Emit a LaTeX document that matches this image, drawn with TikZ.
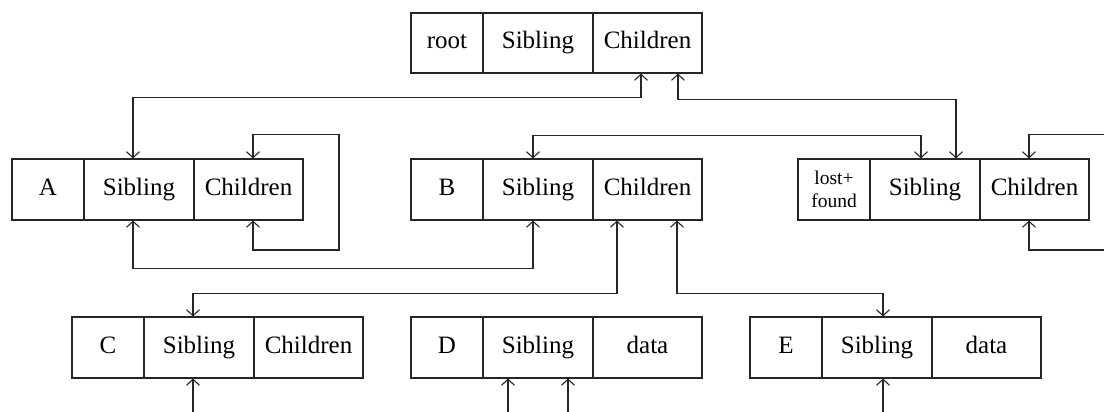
\documentclass[tikz,border=0pt]{standalone}
\usepackage{fontspec}
\setmainfont{Liberation Serif}
\usetikzlibrary{arrows.meta}
\begin{document}
\begin{tikzpicture}[x=1pt,y=-1pt,
  cell/.style={draw=black!85, line width=1.1pt, minimum height=61pt, inner sep=0pt,
    text height=17pt, text depth=5.5pt, font=\fontsize{25}{30}\selectfont},
  namecell/.style={cell, minimum width=72pt},
  sibcell/.style={cell, minimum width=110pt},
  chcell/.style={cell, minimum width=109pt},
  link/.style={draw=black!85, line width=1.1pt, arrows={Straight Barb[length=6pt,width=13pt]-Straight Barb[length=6pt,width=13pt]}},
  inlink/.style={draw=black!85, line width=1.1pt, arrows={Straight Barb[length=6pt,width=13pt]-}}]
\useasboundingbox (0,0) rectangle (1104,412);
\clip (0,0) rectangle (1104,412);
% root
\node[namecell, minimum height=60pt] (rootN) at (447,43) {root};
\node[sibcell, minimum height=60pt] (rootS) at (538,43) {Sibling};
\node[chcell, minimum height=60pt] (rootC) at (647.5,43) {Children};
% A
\node[namecell] (AN) at (48,189.5) {A};
\node[sibcell] (AS) at (139,189.5) {Sibling};
\node[chcell] (AC) at (248.5,189.5) {Children};
% B
\node[namecell] (BN) at (447,189.5) {B};
\node[sibcell] (BS) at (538,189.5) {Sibling};
\node[chcell] (BC) at (647.5,189.5) {Children};
% lost+found
\node[namecell, align=center, text height=, text depth=, font=\fontsize{19.5}{22.7}\selectfont] (LN) at (834,189.5) {lost+\\found};
\node[sibcell] (LS) at (925,189.5) {Sibling};
\node[chcell] (LC) at (1034.5,189.5) {Children};
% C
\node[namecell] (CN) at (108,347.5) {C};
\node[sibcell] (CS) at (199,347.5) {Sibling};
\node[chcell] (CC) at (308.5,347.5) {Children};
% D
\node[namecell] (DN) at (447,347.5) {D};
\node[sibcell] (DS) at (538,347.5) {Sibling};
\node[chcell] (DD) at (647.5,347.5) {data};
% E
\node[namecell] (EN) at (786,347.5) {E};
\node[sibcell] (ES) at (877,347.5) {Sibling};
\node[chcell] (ED) at (986.5,347.5) {data};
% loop corners
\coordinate (Aloop) at (339,250);
\coordinate (Lloop) at (1140,250);
% connectors
\draw[link] ([xshift=-6.5pt]rootC.south) -- ++(0,24) -| ([xshift=-6pt]AS.north);
\draw[link] ([xshift=30.5pt]rootC.south) -- ++(0,26) -| ([xshift=31pt]LS.north);
\draw[link] ([xshift=4.5pt]AC.north) -- ++(0,-24) -| (Aloop) -| ([xshift=4.5pt]AC.south);
\draw[link] ([xshift=-6pt]AS.south) -- ++(0,48) -| ([xshift=-5pt]BS.south);
\draw[link] ([xshift=-5pt]BS.north) -- ++(0,-23) -| ([xshift=-4pt]LS.north);
\draw[link] ([xshift=-5.5pt]LC.north) -- ++(0,-24) -| (Lloop) -| ([xshift=-5.5pt]LC.south);
\draw[link] ([xshift=-30.5pt]BC.south) -- ++(0,73) -| ([xshift=-6pt]CS.north);
\draw[link] ([xshift=29.5pt]BC.south) -- ++(0,73) -| ([xshift=6pt]ES.north);
% free ends below
\coordinate (cfree) at ([xshift=-6pt,yshift=-60pt]CS.south);
\coordinate (dfree1) at ([xshift=-30pt,yshift=-60pt]DS.south);
\coordinate (dfree2) at ([xshift=30pt,yshift=-60pt]DS.south);
\coordinate (efree) at ([xshift=6pt,yshift=-60pt]ES.south);
\draw[inlink] ([xshift=-6pt]CS.south) -- (cfree);
\draw[inlink] ([xshift=-30pt]DS.south) -- (dfree1);
\draw[inlink] ([xshift=30pt]DS.south) -- (dfree2);
\draw[inlink] ([xshift=6pt]ES.south) -- (efree);
\end{tikzpicture}
\end{document}
